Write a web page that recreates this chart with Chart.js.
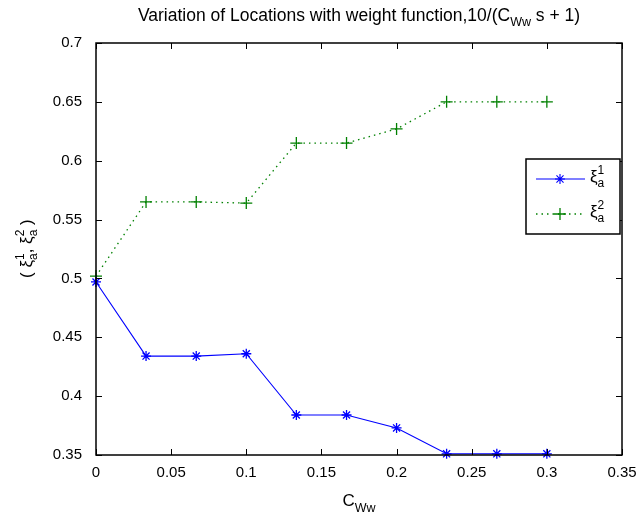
<!DOCTYPE html>
<html>
<head>
<meta charset="utf-8">
<script src="https://cdn.jsdelivr.net/npm/chart.js@4/dist/chart.umd.min.js"></script>
<style>
  html, body { margin: 0; padding: 0; background: #fff; }
  #wrap { width: 636px; height: 526px; position: relative; }
</style>
</head>
<body>
<div id="wrap"><canvas id="chart"></canvas></div>
<script>
// Data
const cWw = [0, 0.0333, 0.0667, 0.1, 0.1333, 0.1667, 0.2, 0.2333, 0.2667, 0.3];
const xi1 = [0.497, 0.434, 0.434, 0.436, 0.384, 0.384, 0.373, 0.351, 0.351, 0.351];
const xi2 = [0.502, 0.565, 0.565, 0.564, 0.615, 0.615, 0.627, 0.650, 0.650, 0.650];
const xTicks = [0, 0.05, 0.1, 0.15, 0.2, 0.25, 0.3, 0.35];
const yTicks = [0.35, 0.4, 0.45, 0.5, 0.55, 0.6, 0.65, 0.7];

const FONT = 'Liberation Sans, Arial, sans-serif';

// draw text pieces with sub/superscripts: [text, shift, size]
const drawRich = (ctx, parts, x, y, align) => {
    let w = 0;
    parts.forEach(p => { ctx.font = p[2] + 'px ' + FONT; w += ctx.measureText(p[0]).width; });
    let cx = align === 'center' ? x - w / 2 : x;
    ctx.textAlign = 'left';
    ctx.textBaseline = 'alphabetic';
    parts.forEach(p => {
        ctx.font = p[2] + 'px ' + FONT;
        ctx.fillText(p[0], cx, y + p[1]);
        cx += ctx.measureText(p[0]).width;
    });
};

// xi with stacked subscript a and superscript n
const drawXi = (ctx, x, y, n) => {
    ctx.font = '17px ' + FONT;
    ctx.textAlign = 'left';
    ctx.textBaseline = 'alphabetic';
    ctx.fillText('\u03be', x, y);
    const w = ctx.measureText('\u03be').width;
    ctx.font = '12px ' + FONT;
    ctx.fillText('a', x + w, y + 5);
    ctx.fillText(n, x + w, y - 8);
    return w + ctx.measureText(n).width;
};

const frame = {
    id: 'frame',
    afterDatasetsDraw(chart) {
        const { ctx, chartArea: a, scales: { x, y } } = chart;
        ctx.save();
        ctx.strokeStyle = '#000';
        ctx.lineWidth = 1;
        ctx.beginPath();
        xTicks.forEach(v => {
            const px = Math.round(x.getPixelForValue(v)) + 0.5;
            ctx.moveTo(px, a.bottom); ctx.lineTo(px, a.bottom - 6);
            ctx.moveTo(px, a.top); ctx.lineTo(px, a.top + 6);
        });
        yTicks.forEach(v => {
            const py = Math.round(y.getPixelForValue(v)) + 0.5;
            ctx.moveTo(a.left, py); ctx.lineTo(a.left + 6, py);
            ctx.moveTo(a.right, py); ctx.lineTo(a.right - 6, py);
        });
        ctx.stroke();
        ctx.lineWidth = 1.5;
        ctx.strokeRect(a.left, a.top, a.right - a.left, a.bottom - a.top);

        // legend
        const lx = 526, ly = 159, lw = 94, lh = 75;
        ctx.fillStyle = '#fff';
        ctx.fillRect(lx, ly, lw, lh);
        ctx.lineWidth = 1.5;
        ctx.strokeRect(lx, ly, lw, lh);
        chart.data.datasets.forEach((ds, i) => {
            const yy = ly + 20 + i * 35;
            ctx.lineWidth = ds.borderWidth;
            ctx.strokeStyle = ds.borderColor;
            ctx.setLineDash(ds.borderDash || []);
            ctx.beginPath();
            ctx.moveTo(lx + 10, yy); ctx.lineTo(lx + 59, yy);
            ctx.stroke();
            ctx.setLineDash([]);
            Chart.helpers.drawPoint(ctx, {
                pointStyle: ds.pointStyle, radius: ds.pointRadius,
                borderWidth: ds.pointBorderWidth, rotation: 0
            }, lx + 34, yy);
            ctx.fillStyle = '#000';
            drawXi(ctx, lx + 64, yy + 3, String(i + 1));
        });

        // title and axis titles
        ctx.fillStyle = '#000';
        drawRich(ctx, [['Variation of Locations with weight function,10/(C', 0, 17.5],
            ['Ww', 5, 12.5], [' s + 1)', 0, 17.5]], (a.left + a.right) / 2, 21, 'center');
        drawRich(ctx, [['C', 0, 17], ['Ww', 6, 12.5]], (a.left + a.right) / 2, 506, 'center');

        ctx.translate(32, (a.top + a.bottom) / 2);
        ctx.rotate(-Math.PI / 2);
        ctx.font = '17px ' + FONT;
        let cx = -29;
        ctx.textAlign = 'left';
        ctx.fillText('(', cx, 0); cx += ctx.measureText('( ').width;
        cx += drawXi(ctx, cx, 0, '1');
        ctx.font = '17px ' + FONT;
        ctx.fillText(',', cx, 0); cx += ctx.measureText(', ').width;
        cx += drawXi(ctx, cx, 0, '2');
        ctx.font = '17px ' + FONT;
        ctx.fillText(' )', cx, 0);
        ctx.restore();
    }
};

new Chart(document.getElementById('chart'), {
    type: 'line',
    data: {
        datasets: [{
            label: 'xi_a^1',
            data: cWw.map((v, i) => ({ x: v, y: xi1[i] })),
            borderColor: '#0000ff',
            borderWidth: 1.1,
            pointStyle: 'star',
            pointRadius: 5,
            pointBorderWidth: 1.3,
            pointBorderColor: '#0000ff',
            tension: 0
        }, {
            label: 'xi_a^2',
            data: cWw.map((v, i) => ({ x: v, y: xi2[i] })),
            borderColor: '#008000',
            borderWidth: 1.3,
            borderDash: [1.5, 4],
            pointStyle: 'cross',
            pointRadius: 6,
            pointBorderWidth: 1.3,
            pointBorderColor: '#008000',
            tension: 0
        }]
    },
    options: {
        responsive: true,
        maintainAspectRatio: false,
        animation: false,
        clip: false,
        layout: { padding: { left: 0, right: 14, top: 43, bottom: 0 } },
        plugins: { legend: { display: false }, title: { display: false }, tooltip: { enabled: false } },
        scales: {
            x: {
                type: 'linear',
                min: 0, max: 0.35,
                afterBuildTicks: s => { s.ticks = xTicks.map(v => ({ value: v })); },
                afterFit: s => { s.height = 71; s.paddingLeft = 0; s.paddingRight = 0; },
                grid: { display: false },
                border: { display: false },
                ticks: {
                    color: '#000', padding: 1,
                    font: { family: FONT, size: 15 },
                    callback: v => String(+v.toFixed(2))
                }
            },
            y: {
                type: 'linear',
                min: 0.35, max: 0.7,
                afterBuildTicks: s => { s.ticks = yTicks.map(v => ({ value: v })); },
                afterFit: s => { s.width = 96; s.paddingTop = 0; s.paddingBottom = 0; },
                grid: { display: false },
                border: { display: false },
                ticks: {
                    color: '#000', padding: 6,
                    font: { family: FONT, size: 15 },
                    callback: v => String(+v.toFixed(2))
                }
            }
        }
    },
    plugins: [frame]
});
</script>
</body>
</html>
